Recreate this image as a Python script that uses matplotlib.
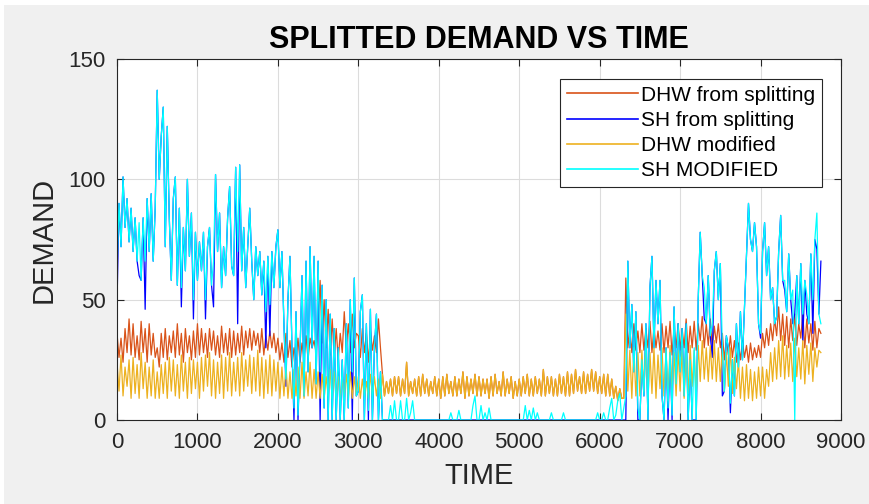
import numpy as np
import matplotlib
matplotlib.use("Agg")
import matplotlib.pyplot as plt
from matplotlib.patches import Rectangle

# =============================
# Données (pas de 25 h)
# =============================
hours = np.arange(0, 8751, 25)

dhw_split = (
    [36, 26, 34, 24, 38, 28, 42, 27, 40, 26, 35, 25, 41, 28, 38, 24, 40, 27, 36, 26] +
    [30, 22, 36, 26, 38, 25, 35, 28, 37, 26, 40, 27, 36, 24, 38, 28, 35, 25, 37, 26] +
    [40, 27, 38, 28, 36, 26, 38, 29, 37, 27, 35, 26, 39, 28, 36, 27, 38, 26, 37, 27] +
    [36, 28, 39, 27, 37, 30, 38, 29, 37, 31, 36, 28, 38, 27, 35, 29, 37, 30, 36, 28] +
    [34, 25, 32, 24, 36, 26, 33, 22, 30, 25, 34, 24, 32, 26, 35, 25, 34, 30, 33, 28] +
    [40, 58, 32, 50, 30, 46, 27, 42, 26, 38, 25, 36, 28, 45, 30, 40, 28, 44, 30, 36] +
    [35, 26, 38, 28, 36, 24, 37, 29, 35, 28, 42, 30, 19, 10, 16, 11, 17, 10, 18, 11] +
    [18, 10, 17, 11, 24, 10, 16, 11, 17, 10, 18, 10, 19, 11, 17, 10, 16, 11, 18, 10] +
    [17, 9, 18, 10, 19, 11, 16, 10, 18, 10, 17, 11, 20, 9, 18, 10, 17, 11, 19, 10] +
    [18, 10, 17, 11, 17, 9, 18, 10, 19, 11, 16, 10, 20, 10, 17, 11, 18, 9, 16, 10] +
    [17, 10, 18, 11, 19, 10, 17, 10, 18, 11, 17, 10, 21, 10, 18, 11, 18, 10, 17, 10] +
    [19, 11, 18, 10, 20, 10, 19, 11, 21, 12, 18, 11, 20, 11, 19, 12, 21, 12, 20, 11] +
    [18, 11, 19, 10, 19, 10, 17, 9, 14, 8, 13, 9, 9, 59, 30, 38, 28, 40, 29, 37] +
    [28, 40, 29, 38, 30, 41, 28, 39, 30, 37, 29, 40, 28, 39, 30, 41, 27, 38, 30, 40] +
    [29, 38, 30, 42, 28, 39, 30, 41, 29, 40, 33, 43, 30, 40, 31, 42, 30, 39, 32, 40] +
    [30, 36, 25, 34, 27, 35, 26, 33, 24, 32, 25, 33, 26, 31, 24, 32, 25, 30, 26, 31] +
    [26, 36, 30, 38, 31, 40, 33, 42, 35, 47, 33, 44, 31, 43, 30, 42, 33, 44, 31, 40] +
    [34, 44, 30, 42, 32, 40, 29, 41, 30, 38, 36]
)

sh_split = (
    [48, 90, 72, 101, 80, 92, 74, 88, 70, 84, 66, 60, 58, 84, 46, 92, 70, 94, 66, 88] +
    [137, 100, 118, 130, 72, 122, 84, 58, 92, 101, 56, 88, 47, 80, 62, 100, 68, 86, 42, 78] +
    [58, 74, 62, 78, 42, 72, 80, 56, 47, 102, 70, 86, 55, 72, 60, 84, 97, 64, 60, 105] +
    [40, 106, 62, 80, 55, 72, 88, 66, 50, 72, 60, 70, 52, 66, 30, 68, 35, 70, 55, 72] +
    [79, 55, 70, 40, 14, 50, 68, 30, 0, 45, 0, 28, 60, 10, 66, 20, 72, 30, 68, 15] +
    [66, 0, 56, 5, 50, 0, 44, 0, 38, 0, 30, 0, 25, 0, 40, 5, 50, 0, 59, 10] +
    [12, 45, 52, 0, 40, 0, 46, 0, 30, 44, 0, 20, 0, 0, 0, 0, 0, 0, 0, 0] +
    [0, 0, 0, 0, 0, 0, 0, 0, 0, 0, 0, 0, 0, 0, 0, 0, 0, 0, 0, 0] +
    [0, 0, 0, 0, 0, 0, 0, 0, 0, 0, 0, 0, 0, 0, 0, 0, 0, 0, 0, 0] +
    [0, 0, 0, 0, 0, 0, 0, 0, 0, 0, 0, 0, 0, 0, 0, 0, 0, 0, 0, 0] +
    [0, 0, 0, 0, 0, 0, 0, 0, 0, 0, 0, 0, 0, 0, 0, 0, 0, 0, 0, 0] +
    [0, 0, 0, 0, 0, 0, 0, 0, 0, 0, 0, 0, 0, 0, 0, 0, 0, 0, 0, 0] +
    [0, 0, 0, 0, 0, 0, 0, 0, 0, 0, 0, 0, 0, 0, 66, 30, 48, 20, 45, 0] +
    [0, 25, 10, 40, 0, 55, 68, 30, 58, 40, 58, 10, 0, 30, 0, 28, 0, 47, 15, 40] +
    [20, 38, 10, 40, 0, 25, 0, 0, 0, 50, 78, 60, 42, 40, 60, 35, 26, 62, 70, 50] +
    [65, 10, 12, 35, 30, 3, 25, 10, 40, 22, 45, 25, 47, 70, 90, 75, 70, 82, 72, 40] +
    [34, 70, 82, 60, 72, 50, 55, 40, 43, 70, 85, 58, 54, 45, 69, 50, 40, 44, 60, 40] +
    [65, 33, 58, 44, 40, 69, 36, 75, 71, 44, 66]
)

dhw_mod = (
    [24, 12, 27, 10, 22, 14, 25, 9, 26, 11, 23, 9, 28, 13, 24, 9, 22, 10, 25, 9] +
    [20, 9, 23, 11, 24, 9, 26, 12, 25, 10, 23, 9, 27, 12, 24, 9, 26, 11, 25, 13] +
    [24, 9, 26, 12, 27, 14, 28, 10, 25, 9, 24, 11, 27, 9, 26, 12, 28, 10, 24, 12] +
    [26, 10, 28, 12, 25, 14, 27, 11, 26, 12, 29, 10, 26, 9, 25, 11, 27, 10, 25, 12] +
    [24, 9, 22, 10, 23, 9, 20, 9, 21, 10, 22, 9, 24, 9, 20, 10, 24, 9, 21, 9] +
    [20, 9, 19, 9, 18, 10, 21, 9, 20, 9, 18, 9, 17, 10, 19, 9, 20, 9, 18, 10] +
    [18, 9, 17, 10, 16, 9, 19, 10, 18, 10, 17, 9, 19, 10, 16, 11, 17, 10, 18, 11] +
    [18, 10, 17, 11, 24, 10, 16, 11, 17, 10, 18, 10, 19, 11, 17, 10, 16, 11, 18, 10] +
    [17, 9, 18, 10, 19, 11, 16, 10, 18, 10, 17, 11, 20, 9, 18, 10, 17, 11, 19, 10] +
    [18, 10, 17, 11, 17, 9, 18, 10, 19, 11, 16, 10, 20, 10, 17, 11, 18, 9, 16, 10] +
    [17, 10, 18, 11, 19, 10, 17, 10, 18, 11, 17, 10, 21, 10, 18, 11, 18, 10, 17, 10] +
    [19, 11, 18, 10, 20, 10, 19, 11, 21, 12, 18, 11, 20, 11, 19, 12, 21, 12, 20, 11] +
    [18, 11, 19, 10, 19, 10, 17, 9, 14, 8, 13, 9, 9, 44, 12, 29, 9, 30, 10, 28] +
    [10, 29, 12, 31, 9, 28, 11, 30, 9, 27, 13, 30, 10, 29, 8, 31, 12, 28, 10, 29] +
    [12, 30, 9, 28, 11, 31, 14, 29, 10, 31, 16, 33, 17, 30, 16, 31, 17, 33, 16, 30] +
    [16, 31, 12, 28, 14, 30, 11, 26, 13, 25, 9, 22, 8, 23, 9, 21, 8, 20, 9, 22] +
    [10, 22, 9, 21, 14, 28, 16, 30, 17, 33, 18, 35, 17, 31, 18, 32, 16, 34, 18, 30] +
    [17, 33, 15, 31, 19, 32, 16, 30, 22, 29, 28]
)

sh_mod = (
    [62, 90, 72, 101, 80, 92, 74, 88, 70, 84, 66, 82, 58, 84, 66, 92, 70, 94, 66, 88] +
    [137, 100, 118, 130, 72, 122, 84, 58, 92, 101, 56, 88, 55, 80, 62, 100, 68, 86, 50, 78] +
    [58, 74, 62, 78, 50, 72, 80, 56, 66, 102, 70, 86, 55, 72, 60, 84, 97, 64, 60, 105] +
    [70, 106, 62, 80, 55, 72, 88, 66, 50, 72, 60, 70, 52, 66, 45, 68, 48, 70, 55, 72] +
    [79, 55, 70, 40, 17, 50, 68, 30, 5, 45, 2, 28, 60, 10, 66, 20, 72, 30, 68, 15] +
    [66, 20, 56, 5, 50, 0, 44, 0, 38, 0, 30, 0, 25, 0, 40, 5, 50, 20, 59, 10] +
    [12, 45, 52, 0, 40, 4, 46, 0, 30, 44, 0, 20, 0, 0, 0, 0, 6, 0, 8, 0] +
    [0, 8, 0, 0, 9, 0, 3, 8, 0, 0, 0, 0, 0, 0, 0, 0, 0, 0, 0, 0] +
    [0, 0, 0, 0, 0, 0, 3, 0, 0, 0, 4, 0, 0, 0, 0, 0, 0, 6, 10, 0] +
    [0, 6, 0, 3, 0, 5, 0, 0, 0, 0, 0, 0, 0, 0, 0, 0, 0, 0, 0, 0] +
    [0, 0, 0, 6, 0, 4, 0, 5, 0, 3, 0, 0, 0, 0, 0, 0, 3, 0, 0, 0] +
    [0, 0, 3, 0, 0, 0, 0, 0, 0, 0, 0, 0, 0, 0, 0, 0, 0, 0, 0, 3] +
    [0, 0, 3, 0, 0, 5, 9, 0, 2, 8, 11, 0, 5, 10, 66, 30, 48, 20, 45, 5] +
    [0, 25, 10, 40, 0, 55, 68, 30, 58, 40, 58, 10, 0, 30, 5, 28, 2, 47, 15, 40] +
    [20, 38, 10, 40, 0, 25, 0, 30, 0, 50, 78, 60, 55, 40, 60, 35, 40, 62, 70, 50] +
    [65, 30, 12, 35, 30, 7, 25, 10, 40, 22, 45, 25, 47, 70, 90, 75, 70, 82, 72, 40] +
    [36, 70, 82, 60, 72, 50, 55, 40, 43, 70, 85, 58, 58, 45, 69, 50, 54, 0, 60, 40] +
    [65, 44, 58, 52, 40, 69, 50, 75, 86, 44, 40]
)

labels = ["DHW from splitting", "SH from splitting", "DHW modified", "SH MODIFIED"]
colors = ["#D95319", "#0000FF", "#EDB120", "#00FFFF"]

# =============================
# Figure
# =============================
plt.rcParams["font.family"] = ["Liberation Sans", "DejaVu Sans"]

fig = plt.figure(figsize=(8.69, 5.04), dpi=100, facecolor="#f0f0f0")
fig.patches.append(Rectangle((0, 1 - 5 / 504), 1, 5 / 504, transform=fig.transFigure,
                             facecolor="white", edgecolor="none"))
fig.patches.append(Rectangle((0, 0), 4 / 869, 1, transform=fig.transFigure,
                             facecolor="white", edgecolor="none"))

ax = fig.add_axes([117 / 869, 1 - 420 / 504, 724 / 869, 361 / 504])
ax.set_facecolor("white")

for serie, lab, col in zip([dhw_split, sh_split, dhw_mod, sh_mod], labels, colors):
    ax.plot(hours, serie, color=col, lw=0.9, label=lab)

ax.set_xlim(0, 9000)
ax.set_ylim(0, 150)
ax.set_xticks(np.arange(0, 9001, 1000))
ax.set_yticks([0, 50, 100, 150])
ax.grid(True, color="#dcdcdc", lw=0.8)
ax.set_axisbelow(True)
ax.tick_params(direction="in", length=5, width=0.8, colors="#262626",
               labelsize=16, top=True, right=True)
ax.tick_params(axis="x", pad=9)
ax.tick_params(axis="y", pad=8)
for sp in ax.spines.values():
    sp.set_color("#262626")
    sp.set_linewidth(0.8)

ax.set_title("SPLITTED DEMAND VS TIME", fontsize=22, fontweight="bold", pad=8)
ax.set_xlabel("TIME", fontsize=21, color="#262626", labelpad=6)
ax.set_ylabel("DEMAND", fontsize=21, color="#262626", labelpad=8)

leg = ax.legend(loc="upper right", bbox_to_anchor=(0.974, 0.945), borderaxespad=0,
                fancybox=False, edgecolor="#262626", framealpha=1, fontsize=15,
                handlelength=3.4, labelspacing=0.3, borderpad=0.33, handletextpad=0.15)
leg.get_frame().set_linewidth(0.8)
for h in leg.get_lines():
    h.set_linewidth(1.2)

fig.savefig("out.png", dpi=100, facecolor=fig.get_facecolor())
